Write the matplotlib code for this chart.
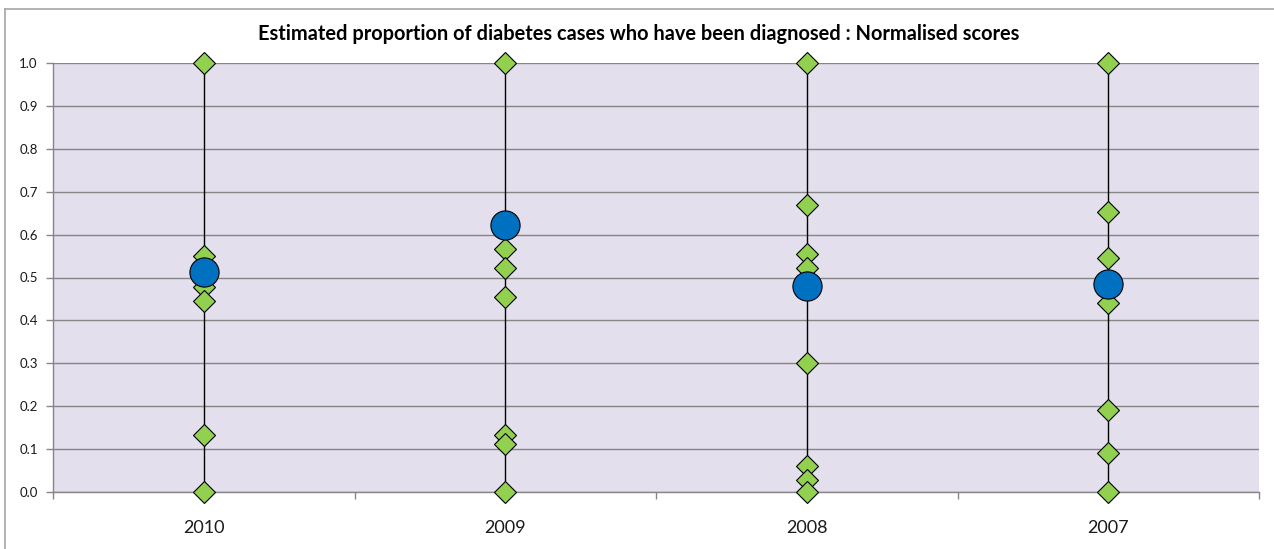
import matplotlib
matplotlib.use("Agg")
import matplotlib.pyplot as plt
from matplotlib.lines import Line2D

years = ["2010", "2009", "2008", "2007"]
scores_2010 = [1.0, 0.550, 0.479, 0.445, 0.133, 0.0]
scores_2009 = [1.0, 0.566, 0.521, 0.455, 0.133, 0.111, 0.0]
scores_2008 = [1.0, 0.668, 0.554, 0.523, 0.301, 0.061, 0.028, 0.0]
scores_2007 = [1.0, 0.653, 0.545, 0.440, 0.191, 0.090, 0.0]
selected = [0.512, 0.622, 0.481, 0.486]
yticks = [i / 10 for i in range(11)]
title = "Estimated proportion of diabetes cases who have been diagnosed : Normalised scores"

all_scores = [scores_2010, scores_2009, scores_2008, scores_2007]

plt.rcParams['font.family'] = ['Lato', 'DejaVu Sans']

fig = plt.figure(figsize=(12.74, 5.49), dpi=100)
ax = fig.add_axes([53/1274, 57/549, 1206/1274, 429/549])
ax.set_facecolor('#E4DFEC')

grid_c = '#868686'
for t in yticks:
    ax.axhline(t, color=grid_c, lw=1.0, zorder=1)

for i, vals in enumerate(all_scores):
    ax.vlines(i, min(vals), max(vals), color='black', lw=1.0, zorder=2)
    ax.plot([i] * len(vals), vals, linestyle='none', marker='D', markersize=11,
            markerfacecolor='#92D050', markeredgecolor='black', markeredgewidth=0.8,
            zorder=3, clip_on=False)
ax.plot(range(len(years)), selected, linestyle='none', marker='o', markersize=21,
        markerfacecolor='#0070C0', markeredgecolor='black', markeredgewidth=0.8,
        zorder=4, clip_on=False)

ax.set_xlim(-0.5, len(years) - 0.5)
ax.set_ylim(0, 1.0)
ax.set_yticks(yticks)
ax.set_yticklabels([f"{t:.1f}" for t in yticks], fontsize=9.5, color='#1a1a1a')
ax.set_xticks(range(len(years)))
ax.set_xticklabels(years, fontsize=13, color='#1a1a1a')
ax.set_xticks([i + 0.5 for i in range(-1, len(years))], minor=True)
ax.tick_params(axis='x', which='major', length=0, pad=20)
ax.tick_params(axis='x', which='minor', length=5, color=grid_c, width=1)
ax.tick_params(axis='y', length=5, color=grid_c, width=1, pad=6)

for s in ['top', 'right']:
    ax.spines[s].set_visible(False)
for s in ['left', 'bottom']:
    ax.spines[s].set_color(grid_c)
    ax.spines[s].set_linewidth(1)

fig.text(639/1274, 1 - 34/549, title, ha='center', va='center',
         fontsize=14.4, fontweight='bold', color='black')

# outer chart border
fig.add_artist(Line2D([5/1274, 1.0], [1 - 9/549, 1 - 9/549], transform=fig.transFigure,
                      color='#A6A6A6', lw=1.2))
fig.add_artist(Line2D([5/1274, 5/1274], [0, 1 - 9/549], transform=fig.transFigure,
                      color='#A6A6A6', lw=1.2))

fig.savefig("out.png", dpi=100)
